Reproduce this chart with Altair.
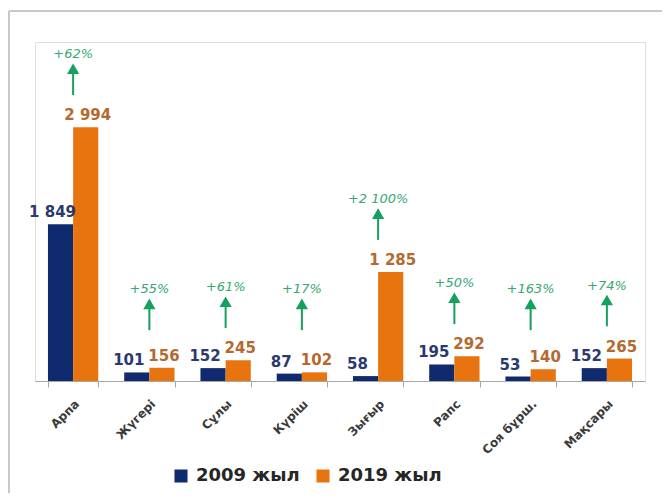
import altair as alt
import pandas as pd

categories = ["Арпа", "Жүгері", "Сұлы", "Күріш", "Зығыр", "Рапс", "Соя бұрш.", "Мақсары"]
v2009 = [1849, 101, 152, 87, 58, 195, 53, 152]
v2019 = [2994, 156, 245, 102, 1285, 292, 140, 265]
growth = ["+62%", "+55%", "+61%", "+17%", "+2 100%", "+50%", "+163%", "+74%"]
series = ["2009 жыл", "2019 жыл"]

NAVY = "#0F2A6E"
ORANGE = "#E8740F"
GREEN = "#17A05D"
FONT = "DejaVu Sans"


def fmt(v):
    return f"{v:,}".replace(",", " ")


rows = []
for c, a, b in zip(categories, v2009, v2019):
    rows.append({"cat": c, "series": series[0], "value": a, "label": fmt(a)})
    rows.append({"cat": c, "series": series[1], "value": b, "label": fmt(b)})
long_df = pd.DataFrame(rows)

arrow_rows = []
for c, b, g in zip(categories, v2019, growth):
    base = max(b + 380, 600)
    arrow_rows.append({"cat": c, "base": base, "tip": base + 300,
                       "head": base + 310, "pct_y": base + 480, "pct": g})
arrow_df = pd.DataFrame(arrow_rows)

x_enc = alt.X("cat:N", sort=categories, title=None,
              scale=alt.Scale(paddingInner=0.34, paddingOuter=0.17),
              axis=alt.Axis(labelAngle=-45, labelFontWeight="bold", labelFontSize=12,
                            labelColor="#3A3A3A", labelPadding=11, domainColor="#A6A6A6",
                            tickColor="#A6A6A6", tickSize=6, tickBand="extent",
                            labelFont=FONT))
y_scale = alt.Scale(domain=[0, 4000])
xoff = alt.XOffset("series:N", sort=series, scale=alt.Scale(domain=series, paddingInner=0))

bars = alt.Chart(long_df).mark_bar().encode(
    x=x_enc,
    xOffset=xoff,
    y=alt.Y("value:Q", scale=y_scale, axis=None),
    color=alt.Color("series:N", scale=alt.Scale(domain=series, range=[NAVY, ORANGE]),
                    legend=alt.Legend(title=None, orient="none", legendX=137, legendY=425,
                                      direction="horizontal", symbolType="square",
                                      symbolSize=170, labelFontSize=18, labelFontWeight="bold",
                                      labelColor="#262626", labelFont=FONT, labelOffset=6,
                                      columnPadding=14, symbolStrokeWidth=0)),
)

lab2009 = alt.Chart(long_df).transform_filter(alt.datum.series == series[0]).mark_text(
    baseline="bottom", dy=-4, dx=-8, fontSize=15, fontWeight="bold", color="#2B3A6E", font=FONT
).encode(x=alt.X("cat:N", sort=categories), xOffset=xoff,
         y=alt.Y("value:Q", scale=y_scale), text="label:N")

lab2019 = alt.Chart(long_df).transform_filter(alt.datum.series == series[1]).mark_text(
    baseline="bottom", dy=-4, dx=2, fontSize=15, fontWeight="bold", color="#B5692E", font=FONT
).encode(x=alt.X("cat:N", sort=categories), xOffset=xoff,
         y=alt.Y("value:Q", scale=y_scale), text="label:N")

shaft = alt.Chart(arrow_df).mark_rule(color=GREEN, strokeWidth=2).encode(
    x=alt.X("cat:N", sort=categories),
    y=alt.Y("base:Q", scale=y_scale), y2="tip:Q")

head = alt.Chart(arrow_df).mark_point(shape="triangle-up", filled=True, size=150,
                                      color=GREEN, opacity=1).encode(
    x=alt.X("cat:N", sort=categories), y=alt.Y("head:Q", scale=y_scale))

pct = alt.Chart(arrow_df).mark_text(fontSize=13, fontStyle="italic", color="#35A874",
                                    baseline="middle", font=FONT).encode(
    x=alt.X("cat:N", sort=categories), y=alt.Y("pct_y:Q", scale=y_scale), text="pct:N")

border_top = alt.Chart(arrow_df).mark_rule(color="#C8C8C8", strokeWidth=2).encode(
    x=alt.value(-26), x2=alt.value(627), y=alt.value(-31))
border_left = alt.Chart(arrow_df).mark_rule(color="#C8C8C8", strokeWidth=2).encode(
    x=alt.value(-26), y=alt.value(-31), y2=alt.value(465))

chart = alt.layer(border_top, border_left, bars, lab2009, lab2019, shaft, head, pct).properties(
    width=610, height=339,
    autosize=alt.AutoSizeParams(type="none"),
    padding={"left": 27, "top": 34, "right": 17, "bottom": 112},
    background="white",
).configure_view(stroke=None).configure(font=FONT)

chart.save("out.html", embed_options={"renderer": "svg", "actions": False})
